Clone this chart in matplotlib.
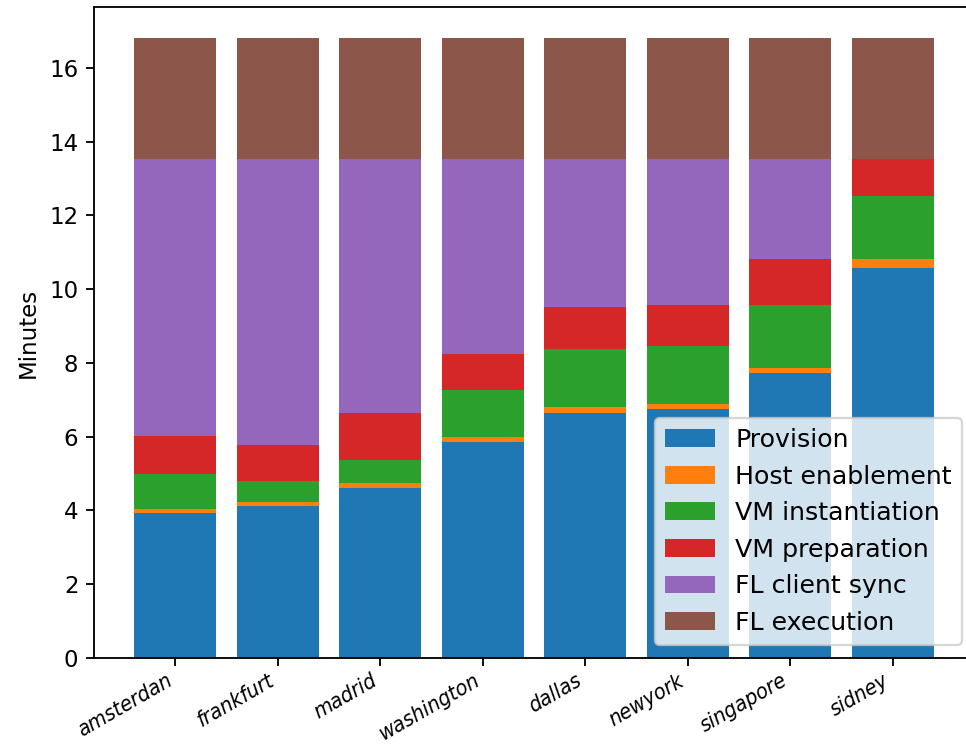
import matplotlib
matplotlib.use("Agg")
import matplotlib.pyplot as plt
from matplotlib import font_manager
import numpy as np

regions = ["amsterdan", "frankfurt", "madrid", "washington",
           "dallas", "newyork", "singapore", "sidney"]

provision       = [3.93, 4.12, 4.61, 5.85, 6.65, 6.76, 7.72, 10.57]
host_enablement = [0.10, 0.10, 0.13, 0.14, 0.15, 0.12, 0.14, 0.24]
vm_instantiation = [0.95, 0.57, 0.63, 1.28, 1.58, 1.59, 1.71, 1.71]
vm_preparation  = [1.05, 0.99, 1.28, 0.97, 1.15, 1.10, 1.24, 1.01]
fl_client_sync  = [7.50, 7.75, 6.88, 5.29, 4.00, 3.96, 2.72, 0.00]
fl_execution    = [3.27, 3.27, 3.27, 3.27, 3.27, 3.27, 3.27, 3.27]

stages = [
    ("Provision", provision),
    ("Host enablement", host_enablement),
    ("VM instantiation", vm_instantiation),
    ("VM preparation", vm_preparation),
    ("FL client sync", fl_client_sync),
    ("FL execution", fl_execution),
]

# Pick a narrow oblique face for the region names if one is installed
names = {f.name for f in font_manager.fontManager.ttflist}
narrow = None
for cand in ["DejaVu Sans Condensed", "Liberation Sans Narrow"]:
    if cand in names:
        narrow = cand
        break
tick_font = dict(fontstyle="italic", fontsize=9.5)
if narrow:
    tick_font["family"] = [narrow, "DejaVu Sans"]
else:
    tick_font["fontstretch"] = "condensed"

dpi = 165
fig = plt.figure(figsize=(966 / dpi, 749 / dpi), dpi=dpi)
ax = fig.add_axes([0.0978, 0.1215, 0.9101, 0.8685])

x = np.arange(len(regions))
bottom = np.zeros(len(regions))
for name, vals in stages:
    vals = np.asarray(vals)
    ax.bar(x, vals, width=0.8, bottom=bottom, label=name)
    bottom += vals

ax.set_xticks(x)
ax.set_xticklabels(regions, rotation=30, ha="right", **tick_font)
ax.tick_params(axis="x", pad=2)
ax.set_ylabel("Minutes")
ax.set_yticks(np.arange(0, 17, 2))
ax.spines["right"].set_visible(False)

ax.legend(loc="lower right", bbox_to_anchor=(962 / 966, (749 - 645) / 749),
          bbox_transform=fig.transFigure, borderaxespad=0, fontsize=11)

fig.savefig("out.png", dpi=dpi)
